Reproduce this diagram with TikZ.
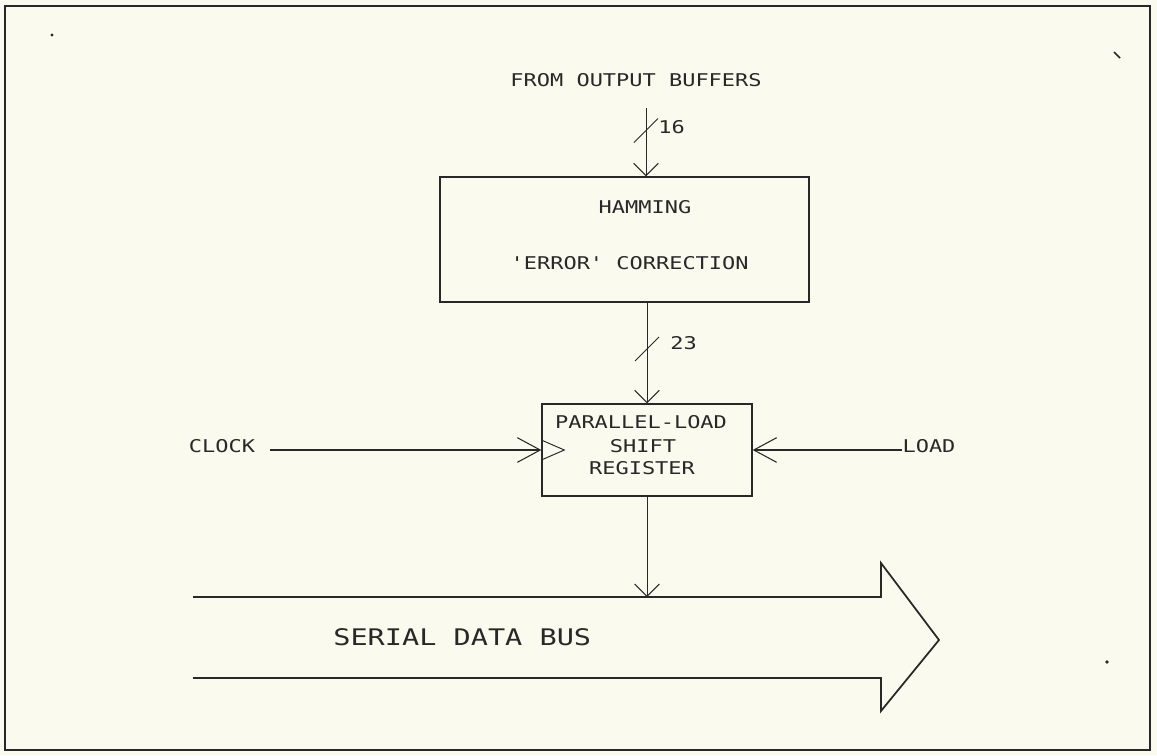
\documentclass[tikz,border=0pt]{standalone}
\usepackage{fontspec}
\newfontfamily\plotfont{DejaVu Sans Mono}[FakeStretch=1.25,Ligatures=TeXOff]
\usepackage{tikz}
\usetikzlibrary{positioning,calc}
\usetikzlibrary{arrows.meta}
\definecolor{PaperTone}{RGB}{250,250,238}
\definecolor{InkGray}{RGB}{40,40,40}
\tikzset{
  blk/.style={draw=InkGray,line width=0.8pt,inner sep=0pt},
  lbl/.style={font=\plotfont\fontsize{10}{12}\selectfont,text=InkGray,inner sep=0pt},
  biglbl/.style={font=\plotfont\fontsize{13}{15}\selectfont,text=InkGray,inner sep=0pt},
  wire/.style={draw=InkGray,line width=0.55pt},
  ctrl/.style={draw=InkGray,line width=0.9pt},
  vhead/.style={-{Straight Barb[length=7pt,width=14pt,line width=0.6pt]}},
  hhead/.style={-{Straight Barb[length=13pt,width=14pt,line width=0.6pt]}},
  busline/.style={draw=InkGray,line width=1pt,line join=miter},
}
\tikzset{speck/.style={fill=InkGray}}

\begin{document}
\begin{tikzpicture}[x=0.02cm,y=-0.02cm]
\fill[PaperTone] (0,0) rectangle (1157,755);
\useasboundingbox (0,0) rectangle (1157,755);
\draw[InkGray,line width=1.1pt] (5,6) rectangle (1150,750);
\fill[speck] (52,35) circle (1.6);
\fill[speck] (1107,662) circle (1.8);
\draw[InkGray,line width=1pt] (1114,52) -- (1120,58);

\node[lbl,anchor=east] (src) at (762,80) {FROM OUTPUT BUFFERS};
\node[blk,minimum width=7.38cm,minimum height=2.5cm] (ham) at (624.5,239.5) {};
\node[lbl] (hamtop) at (645,207) {HAMMING};
\node[lbl,anchor=east] (hambot) at (749,263) {'ERROR' CORRECTION};

\node[blk,minimum width=4.2cm,minimum height=1.84cm] (reg) at (647,450) {};
\node[lbl] (regA) at (641,422) {PARALLEL-LOAD};
\node[lbl] (regB) at (643,446) {SHIFT};
\node[lbl] (regC) at (642,468) {REGISTER};

\node[lbl] (clk) at (222,446) {CLOCK};
\node[lbl] (ld) at (929,446) {LOAD};
\coordinate (feed) at (646,108);
\coordinate (clkin) at (270,450);
\coordinate (ldin) at (902,450);
\coordinate (bustop) at (193,597);
\coordinate (busbot) at (193,678);

\draw[wire,vhead] (feed) -- (feed |- ham.north);
\draw[wire] ($(feed)!0.33!(feed |- ham.north)$) +(-12,12) -- +(12,-12);
\node[lbl,anchor=west] (w16) at (658,127) {16};

\draw[wire,vhead] (ham.south -| reg.north) -- (reg.north);
\draw[wire] ($(ham.south -| reg.north)!0.46!(reg.north)$) +(-12,12) -- +(12,-12);
\node[lbl,anchor=west] (w23) at (670,343) {23};

\draw[ctrl,hhead] (clkin) -- (reg.west);
\draw[wire] ($(reg.west)+(0,-10)$) -- ($(reg.west)+(23,0)$) -- ($(reg.west)+(0,10)$);
\draw[ctrl,hhead] (ldin) -- (reg.east);

\draw[busline] (bustop) -- (881,597) -- (881,563) -- (939,640) -- (881,711) -- (881,678) -- (busbot);
\draw[wire,vhead] (reg.south) -- (reg.south |- bustop);
\node[biglbl,anchor=west] (bus) at (333,637) {SERIAL DATA BUS};
\end{tikzpicture}
\end{document}
